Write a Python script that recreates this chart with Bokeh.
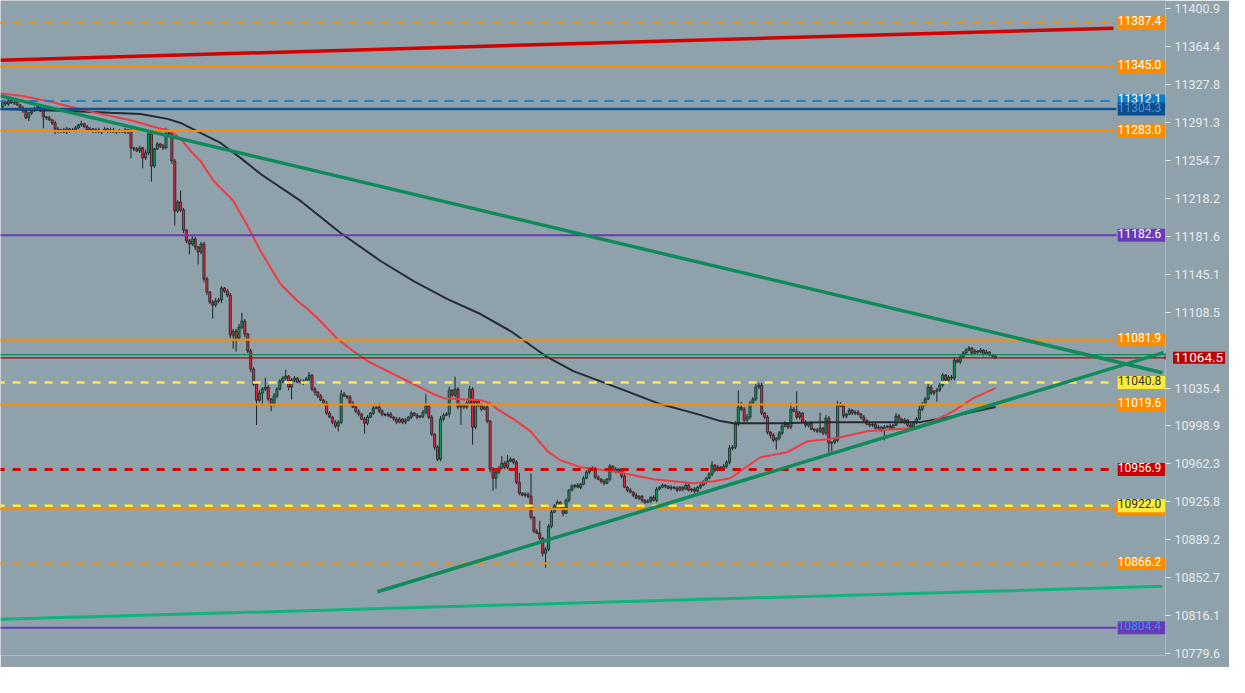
from bokeh.plotting import figure
from bokeh.models import Range1d, FixedTicker, PrintfTickFormatter, Label, PolyAnnotation, ColumnDataSource
from bokeh.embed import file_html
from bokeh.resources import INLINE

# ---------------- data ----------------
first_open = 11306.4
closes = [
    11311.2, 11309.2, 11312.2, 11310.2, 11311.2, 11308.3, 11305.4, 11302.5, 11295.8, 11300.6,
    11302.5, 11305.4, 11306.4, 11302.5, 11296.7, 11295.8, 11293.8, 11290.9, 11285.1, 11283.2,
    11284.2, 11282.2, 11285.1, 11283.2, 11284.2, 11286.1, 11289.0, 11290.0, 11287.1, 11284.2,
    11285.1, 11283.2, 11284.2, 11282.2, 11283.2, 11285.1, 11283.2, 11284.2, 11282.2, 11283.2,
    11283.2, 11282.2, 11284.2, 11282.2, 11266.8, 11265.8, 11263.9, 11266.8, 11257.2, 11262.0,
    11280.3, 11249.4, 11265.8, 11270.6, 11268.7, 11266.8, 11280.3, 11281.3, 11254.3, 11206.0,
    11214.7, 11207.0, 11187.7, 11177.1, 11174.2, 11179.0, 11171.3, 11166.5, 11174.2, 11140.4,
    11127.9, 11118.2, 11115.3, 11119.2, 11120.2, 11131.7, 11128.9, 11125.0, 11086.4, 11090.3,
    11083.5, 11094.1, 11099.9, 11087.4, 11071.0, 11053.6, 11039.1, 11023.7, 11030.5, 11034.3,
    11036.3, 11024.7, 11019.9, 11027.6, 11034.3, 11042.0, 11044.9, 11046.9, 11036.3, 11043.0,
    11044.9, 11041.1, 11042.0, 11040.1, 11044.0, 11047.8, 11034.3, 11031.4, 11027.6, 11023.7,
    11020.8, 11011.2, 11007.3, 11002.5, 10998.6, 11002.5, 11029.5, 11027.6, 11026.6, 11020.8,
    11017.0, 11013.1, 11010.2, 11005.4, 11001.5, 11007.3, 11011.2, 11016.0, 11017.0, 11013.1,
    11010.2, 11009.2, 11010.2, 11007.3, 11005.4, 11002.5, 11005.4, 11002.5, 11004.4, 11007.3,
    11011.2, 11009.2, 11007.3, 11008.3, 11012.1, 11017.9, 11007.3, 10990.9, 10978.4, 10966.8,
    11005.4, 11009.2, 11010.2, 11033.4, 11028.5, 11034.3, 11017.0, 11018.9, 11017.0, 11020.8,
    11034.3, 10997.7, 11022.7, 11018.9, 11015.0, 11017.0, 11003.5, 10957.2, 10948.5, 10954.3,
    10958.1, 10962.9, 10959.1, 10964.9, 10966.8, 10963.9, 10944.6, 10934.0, 10932.1, 10933.0,
    10931.1, 10910.8, 10897.3, 10895.4, 10890.6, 10876.1, 10880.0, 10902.2, 10915.7, 10921.5,
    10925.3, 10920.5, 10914.7, 10927.2, 10936.9, 10940.7, 10941.7, 10939.8, 10942.7, 10948.5,
    10954.3, 10957.2, 10958.1, 10949.4, 10947.5, 10945.6, 10943.6, 10947.5, 10960.0, 10957.2,
    10955.2, 10957.2, 10950.4, 10939.8, 10936.9, 10935.0, 10932.1, 10929.2, 10931.1, 10927.2,
    10925.3, 10926.3, 10930.1, 10927.2, 10937.9, 10939.8, 10941.7, 10940.7, 10938.8, 10939.8,
    10938.8, 10936.9, 10939.8, 10937.9, 10941.7, 10936.9, 10937.9, 10935.9, 10939.8, 10941.7,
    10944.6, 10948.5, 10952.3, 10961.0, 10956.2, 10959.1, 10957.2, 10960.0, 10963.9, 10977.4,
    10978.4, 11000.5, 11017.0, 11015.0, 11004.4, 11007.3, 11020.8, 11024.7, 11036.3, 11038.2,
    11011.2, 11007.3, 10992.8, 10989.9, 10985.1, 10987.0, 10991.9, 10998.6, 11000.5, 10997.7,
    11015.0, 11013.1, 11007.3, 11011.2, 11002.5, 10999.6, 11001.5, 10995.7, 10994.8, 10993.8,
    10996.7, 10991.9, 11006.3, 10982.2, 10983.2, 10985.1, 11019.9, 11017.9, 11008.3, 11010.2,
    11014.1, 11011.2, 11012.1, 11010.2, 11007.3, 11004.4, 11000.5, 10999.6, 11000.5, 10996.7,
    10997.7, 10994.8, 10997.7, 10998.6, 10996.7, 10999.6, 11008.3, 11005.4, 11002.5, 11004.4,
    10999.6, 10997.7, 11002.5, 11005.4, 11015.0, 11019.9, 11024.7, 11036.3, 11030.5, 11032.4,
    11033.4, 11038.2, 11047.8, 11043.0, 11045.9, 11044.9, 11062.3, 11060.4, 11065.2, 11069.0,
    11071.9, 11073.9, 11069.0, 11071.0, 11070.0, 11071.9, 11068.1, 11070.0, 11067.1, 11066.2, 11064.5,
]
wick_up = [
    2, 1, 2, 2, 1, 2, 1, 2, 2, 1,
    2, 1, 2, 1, 2, 1, 2, 1, 2, 2,
    1, 2, 2, 1, 2, 2, 1, 3, 1, 2,
    2, 1, 2, 2, 1, 2, 1, 2, 2, 1,
    2, 1, 2, 1, 3, 1, 2, 2, 1, 3,
    2, 2, 1, 2, 1, 2, 6, 2, 1, 2,
    2, 11, 2, 1, 2, 3, 2, 1, 2, 2,
    2, 1, 2, 3, 2, 2, 1, 2, 2, 2,
    2, 3, 8, 2, 1, 2, 2, 2, 3, 2,
    9, 2, 1, 3, 2, 2, 2, 6, 1, 2,
    2, 1, 2, 2, 2, 3, 1, 2, 1, 2,
    1, 2, 2, 1, 2, 2, 4, 2, 1, 2,
    2, 1, 2, 1, 2, 2, 1, 2, 1, 4,
    2, 1, 2, 2, 1, 2, 2, 1, 2, 1,
    2, 1, 2, 1, 2, 12, 1, 2, 1, 2,
    3, 2, 2, 3, 1, 12, 2, 2, 1, 2,
    3, 2, 2, 1, 2, 1, 2, 1, 2, 2,
    2, 7, 2, 6, 2, 1, 2, 9, 1, 2,
    2, 22, 1, 2, 12, 1, 2, 2, 3, 2,
    2, 1, 2, 2, 1, 2, 1, 2, 1, 2,
    2, 1, 2, 1, 2, 1, 2, 1, 2, 1,
    2, 1, 1, 2, 1, 2, 1, 2, 1, 1,
    1, 2, 1, 2, 2, 1, 2, 1, 1, 2,
    1, 2, 1, 1, 2, 1, 1, 2, 1, 2,
    2, 1, 2, 4, 1, 2, 1, 2, 2, 3,
    2, 3, 16, 5, 2, 3, 2, 2, 4, 2,
    2, 1, 2, 1, 2, 1, 2, 2, 3, 1,
    6, 2, 19, 2, 1, 2, 1, 2, 1, 2,
    15, 1, 3, 2, 1, 2, 3, 2, 2, 1,
    2, 1, 2, 2, 1, 2, 1, 2, 1, 2,
    2, 1, 2, 1, 2, 1, 3, 2, 1, 2,
    1, 2, 1, 2, 3, 2, 2, 3, 2, 1,
    2, 2, 2, 1, 2, 2, 3, 1, 2, 2,
    2, 2, 1, 2, 1, 2, 1, 2, 1, 1, 1,
]
wick_dn = [
    1, 2, 2, 1, 2, 1, 2, 2, 1, 3,
    2, 1, 2, 1, 11, 2, 1, 2, 5, 2,
    2, 1, 2, 2, 1, 2, 1, 2, 1, 2,
    1, 2, 2, 1, 2, 1, 2, 2, 1, 2,
    2, 1, 2, 2, 10, 2, 1, 2, 10, 2,
    2, 15, 2, 1, 2, 2, 1, 2, 3, 14,
    2, 2, 3, 2, 10, 2, 3, 12, 2, 3,
    3, 2, 13, 2, 2, 3, 2, 2, 3, 13,
    13, 2, 2, 3, 2, 3, 2, 24, 2, 12,
    2, 2, 7, 2, 2, 1, 2, 2, 3, 12,
    2, 1, 2, 2, 1, 2, 2, 3, 2, 1,
    2, 2, 1, 2, 2, 5, 2, 1, 2, 2,
    1, 2, 2, 1, 10, 2, 1, 2, 1, 2,
    2, 1, 2, 1, 2, 2, 1, 2, 2, 1,
    2, 1, 2, 1, 2, 2, 2, 2, 3, 2,
    2, 2, 1, 3, 2, 2, 2, 17, 2, 2,
    2, 17, 2, 2, 2, 1, 2, 3, 12, 10,
    2, 1, 2, 2, 1, 2, 2, 2, 1, 2,
    2, 2, 2, 1, 2, 3, 14, 2, 2, 1,
    2, 2, 3, 1, 2, 1, 2, 1, 2, 1,
    1, 2, 1, 2, 1, 2, 2, 1, 2, 1,
    2, 1, 2, 1, 2, 1, 2, 1, 2, 2,
    2, 1, 2, 1, 2, 1, 1, 2, 1, 2,
    1, 2, 1, 2, 1, 1, 2, 2, 1, 2,
    1, 2, 1, 2, 2, 1, 2, 1, 2, 2,
    2, 2, 2, 2, 3, 2, 2, 1, 2, 2,
    2, 2, 2, 3, 2, 9, 2, 2, 1, 2,
    2, 1, 2, 2, 1, 2, 2, 1, 2, 2,
    2, 2, 2, 11, 8, 2, 2, 1, 2, 2,
    1, 2, 2, 1, 2, 2, 1, 2, 2, 1,
    2, 2, 10, 1, 2, 2, 1, 2, 1, 2,
    2, 1, 2, 2, 1, 2, 2, 1, 2, 2,
    10, 2, 2, 1, 2, 2, 2, 1, 2, 1,
    2, 1, 2, 1, 2, 1, 2, 1, 1, 2, 1,
]

# moving averages: vertices (bar index, price)
fast_ma_idx = [-0.7, 6.2, 15.4, 22.3, 29.1, 37.0, 44.9, 50.7, 57.5, 61.0, 64.4, 67.8, 72.3, 79.1, 83.9,
               88.4, 95.2, 101.0, 104.5, 109.9, 114.7, 120.2, 125.0, 133.9, 140.8, 147.6, 151.0, 163.7,
               167.1, 169.5, 175.0, 180.8, 186.6, 191.1, 197.9, 209.2, 222.9, 236.6, 243.5, 249.3,
               255.1, 259.6, 268.8, 275.7, 282.5, 287.0, 296.2, 305.1, 312.0, 318.8, 325.7, 332.5, 340.1]
fast_ma_val = [11319.2, 11317.0, 11312.1, 11307.3, 11302.5, 11297.7, 11292.8, 11288.0, 11283.2, 11275.5,
               11263.9, 11254.3, 11234.9, 11215.7, 11191.5, 11167.4, 11135.6, 11119.2, 11111.5, 11097.0,
               11082.6, 11070.9, 11061.3, 11048.8, 11039.1, 11029.5, 11025.6, 11023.7, 11020.8, 11015.0,
               11005.4, 10993.8, 10974.5, 10965.8, 10959.1, 10955.2, 10947.5, 10943.6, 10945.5, 10948.4,
               10960.0, 10968.7, 10973.5, 10984.1, 10986.1, 10988.0, 10993.8, 10995.7, 10996.7, 11003.4,
               11013.1, 11025.6, 11035.3]
slow_ma_idx = [-0.7, 22.3, 37.0, 47.3, 56.5, 61.0, 67.8, 74.7, 81.5, 88.4, 102.1, 115.8, 129.5, 140.8,
               152.4, 163.7, 174.0, 186.0, 195.5, 209.2, 225.3, 238.0, 245.9, 250.3, 266.4, 280.1,
               300.7, 314.4, 325.7, 340.1]
slow_ma_val = [11304.4, 11302.5, 11300.6, 11299.6, 11294.8, 11290.9, 11281.3, 11271.6, 11257.2, 11241.7,
               11215.7, 11184.8, 11157.8, 11138.5, 11121.1, 11106.7, 11090.3, 11066.2, 11051.7, 11037.2,
               11019.9, 11010.2, 11003.5, 11001.5, 11001.5, 11002.5, 11002.5, 11002.5, 11008.3, 11017.0]

# trend lines: (bar index pair, price pair)
top_red_idx = [-0.7, 380.5]
top_red_val = [11351.4, 11382.2]
down_green_idx = [-0.7, 397.3]
down_green_val = [11317.0, 11050.1]
up_green_idx = [128.4, 397.6]
up_green_val = [10839.0, 11069.5]
low_green_idx = [-0.7, 397.2]
low_green_val = [10812.4, 10844.3]

# horizontal price levels
level_prices = [11387.4, 11345.0, 11312.1, 11304.3, 11283.0, 11182.6, 11081.9,
                11040.8, 11019.6, 10956.9, 10918.9, 10922.0, 10866.2, 10804.4]
level_labels = ["11387.4", "11345.0", "11312.1", "11304.3", "11283.0", "11182.6", "11081.9",
                "11040.8", "11019.6", "10956.9", None, "10922.0", "10866.2", "10804.4"]
last_price = 11064.5
green_marker_price = 11067.6

price_ticks = [11400.9, 11364.4, 11327.8, 11291.3, 11254.7, 11218.2, 11181.6, 11145.1, 11108.5,
               11035.4, 10998.9, 10962.3, 10925.8, 10889.2, 10852.7, 10816.1, 10779.6, 10743.0]

# ---------------- styles ----------------
BG = "#8fa2ab"
ORANGE = "#fb8c00"
level_styles = [
    dict(color=ORANGE, width=2, dash="8 8", box=ORANGE, text="white"),
    dict(color=ORANGE, width=2, dash="solid", box=ORANGE, text="white"),
    dict(color="#1683c9", width=2, dash="9 7", box="#0b7fc6", text="white"),
    dict(color="#0d4f94", width=2.5, dash="solid", box="#0a4d90", text="#4d94d4"),
    dict(color=ORANGE, width=2, dash="solid", box=ORANGE, text="white"),
    dict(color="#673ab7", width=2, dash="solid", box="#673ab7", text="white"),
    dict(color=ORANGE, width=2, dash="solid", box=ORANGE, text="white"),
    dict(color="#ffeb3b", width=2.5, dash="8 8", box="#ffeb3b", text="#333333"),
    dict(color=ORANGE, width=2, dash="solid", box=ORANGE, text="white"),
    dict(color="#d50000", width=3, dash="8 8", box="#cc0000", text="white"),
    dict(color=ORANGE, width=2, dash="solid", box=ORANGE, text="white"),
    dict(color="#ffeb3b", width=2.5, dash="8 8", box="#ffeb3b", text="#333333"),
    dict(color=ORANGE, width=2, dash="8 8", box=ORANGE, text="white"),
    dict(color="#673ab7", width=2, dash="solid", box="#673ab7", text="#2196f3"),
]

X_LEFT, X_RIGHT = -0.685, 398.3
Y_TOP = 11408.9
FRAME_W, FRAME_H = 1165, 655
PX_PER_PRICE = 1.0375
LEVEL_END = 381.5
LABEL_X = 1141          # screen x of level-label centres
LABEL_HALF_W, LABEL_HALF_H = 26, 7   # px

p = figure(frame_width=FRAME_W, frame_height=FRAME_H, x_range=Range1d(X_LEFT, X_RIGHT),
           y_range=Range1d(Y_TOP - FRAME_H / PX_PER_PRICE, Y_TOP),
           x_axis_location=None, y_axis_location="right",
           output_backend="svg", toolbar_location=None,
           background_fill_color=BG, border_fill_color=BG, outline_line_color=None,
           min_border_left=0, min_border_top=0, min_border_bottom=0, min_border_right=64)
p.grid.visible = False

ax = p.yaxis[0]
ax.ticker = FixedTicker(ticks=price_ticks)
ax.formatter = PrintfTickFormatter(format="%.1f")
ax.axis_line_color = None
ax.major_tick_line_color = "#e4e9ec"
ax.major_tick_out = 5
ax.major_tick_in = 0
ax.minor_tick_line_color = None
ax.major_label_standoff = 4
ax.major_label_text_color = "#e6eaed"
ax.major_label_text_font = "Roboto"
ax.major_label_text_font_size = "12.5px"

# ---------------- candles ----------------
n = len(closes)
idx = list(range(n))
opens = [first_open] + closes[:-1]
highs = [max(o, c) + u for o, c, u in zip(opens, closes, wick_up)]
lows = [min(o, c) - d for o, c, d in zip(opens, closes, wick_dn)]
cols = ["#12995e" if c >= o else "#e3283b" for o, c in zip(opens, closes)]
src = ColumnDataSource(dict(x=idx, open=opens, close=closes, high=highs, low=lows, color=cols))
p.segment(x0="x", y0="high", x1="x", y1="low", source=src, line_color="#1d2226", line_width=1)
p.vbar(x="x", top="open", bottom="close", width=0.72, source=src, fill_color="color",
       line_color="#1d2226", line_width=0.8)

# ---------------- moving averages ----------------
p.line(slow_ma_idx, slow_ma_val, line_color="#262b33", line_width=2)
p.line(fast_ma_idx, fast_ma_val, line_color="#f03a44", line_width=2)

# ---------------- horizontal levels ----------------
for price, st in zip(level_prices, level_styles):
    p.segment(x0=[-2], y0=[price], x1=[LEVEL_END], y1=[price], line_color=st["color"],
              line_width=st["width"], line_dash=st["dash"])
p.segment(x0=[-2], y0=[green_marker_price], x1=[X_RIGHT + 2], y1=[green_marker_price],
          line_color="#0b8a5a", line_width=1.2)
p.segment(x0=[-2], y0=[last_price], x1=[X_RIGHT + 2], y1=[last_price],
          line_color="#c00000", line_width=1.2)

# ---------------- trend lines ----------------
p.line(top_red_idx, top_red_val, line_color="#d50000", line_width=3.5)
p.line(low_green_idx, low_green_val, line_color="#0fb47c", line_width=3)
p.line(down_green_idx, down_green_val, line_color="#0e8a5b", line_width=3.5)
p.line(up_green_idx, up_green_val, line_color="#0e8a5b", line_width=3.5)

# ---------------- price labels ----------------
hw, hh = LABEL_HALF_W, LABEL_HALF_H / PX_PER_PRICE
for price, txt, st in zip(level_prices, level_labels, level_styles):
    if txt is None:
        # label hidden behind its neighbour: only its box edge shows
        p.add_layout(PolyAnnotation(xs=[LABEL_X - hw, LABEL_X + hw, LABEL_X + hw, LABEL_X - hw],
                                    xs_units="screen",
                                    ys=[price + hh, price + hh, price - hh, price - hh],
                                    fill_color=st["box"], fill_alpha=1, line_color=None))
        continue
    p.add_layout(Label(x=LABEL_X, x_units="screen", y=price, text=txt, text_align="center",
                       text_baseline="middle", text_font="Roboto", text_font_size="12px",
                       text_color=st["text"], background_fill_color=st["box"],
                       padding=(0, 4, 0, 4)))

# last-price marker in the axis strip: placed in a side panel so it is not clipped to the frame;
# positions are in bar-index / price units so they follow the main scales
half = 9.5 / PX_PER_PRICE
tip_i, body_i, end_i, mid_i = 397.6, 400.7, 418.8, 409.8
p.add_layout(PolyAnnotation(xs=[tip_i, body_i, end_i, end_i, body_i],
                            ys=[green_marker_price, green_marker_price + half, green_marker_price + half,
                                green_marker_price - half, green_marker_price - half],
                            fill_color="#0b8a5a", fill_alpha=1, line_color=None), "below")
p.add_layout(PolyAnnotation(xs=[tip_i, body_i + 0.3, body_i + 0.3],
                            ys=[last_price, last_price + half, last_price - half],
                            fill_color="#b80000", fill_alpha=1, line_color=None), "below")
p.add_layout(Label(x=mid_i, y=last_price, text="11064.5", text_align="center",
                   text_baseline="middle", text_font="Roboto", text_font_size="13.5px",
                   text_color="white", background_fill_color="#b80000", padding=(1, 2, 1, 2)),
             "below")

open("out.html", "w").write(file_html(p, INLINE))
